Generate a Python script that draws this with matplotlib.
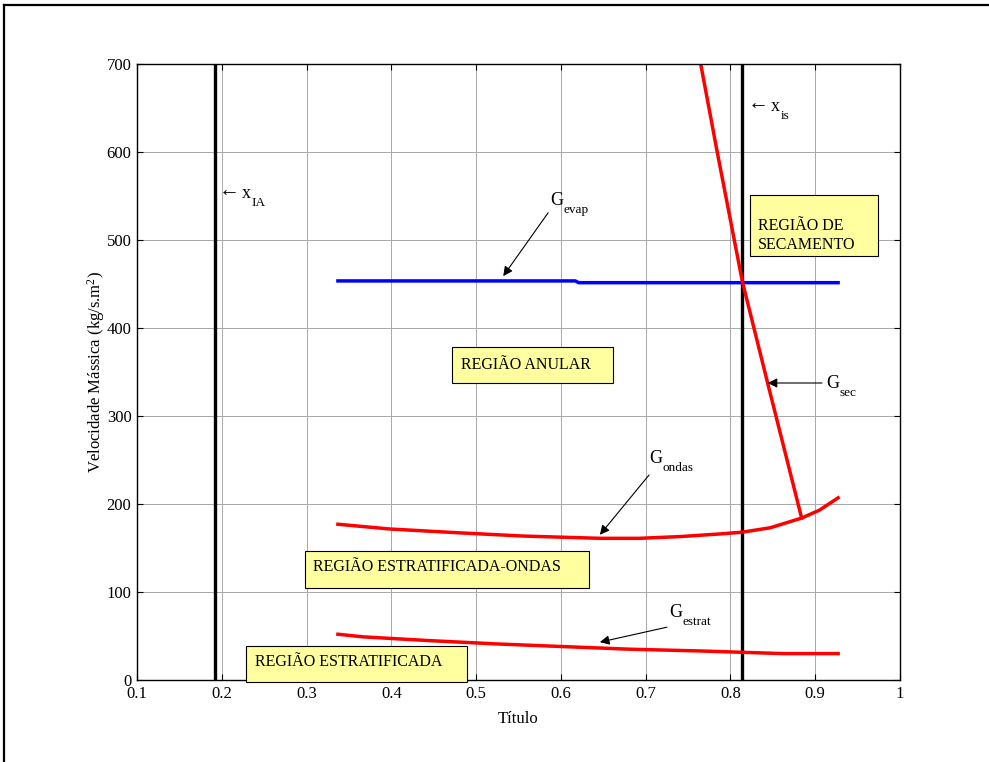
import matplotlib
matplotlib.use("Agg")
import matplotlib.pyplot as plt
from matplotlib.patches import Rectangle
from matplotlib.lines import Line2D

plt.rcParams["font.family"] = ["Liberation Serif", "DejaVu Serif"]
plt.rcParams["mathtext.fontset"] = "custom"
plt.rcParams["mathtext.rm"] = "Liberation Serif"
plt.rcParams["mathtext.it"] = "Liberation Serif:italic"

# Boundary curves of the flow-pattern map
x_evap = [0.337, 0.617, 0.621, 0.927]
g_evap = [453.5, 453.5, 451.5, 451.5]

x_sec = [0.762, 0.784, 0.814, 0.844, 0.884]
g_sec = [715, 602, 453, 337, 184]

x_ondas = [0.337, 0.398, 0.477, 0.555, 0.646, 0.693, 0.741, 0.788, 0.814,
           0.847, 0.884, 0.905, 0.927]
g_ondas = [177, 171.6, 167.4, 163.6, 161, 161, 163, 166, 168,
           173, 184, 193, 207]

x_estrat = [0.337, 0.367, 0.446, 0.524, 0.602, 0.681, 0.764, 0.862, 0.927]
g_estrat = [52, 49, 44.7, 41, 38, 35, 33, 30, 30]

# Transition qualities
x_IA = 0.192
x_is = 0.814

x_ticks = [0.1, 0.2, 0.3, 0.4, 0.5, 0.6, 0.7, 0.8, 0.9, 1.0]
x_ticklabels = ["0.1", "0.2", "0.3", "0.4", "0.5", "0.6", "0.7", "0.8", "0.9", "1"]
y_ticks = [0, 100, 200, 300, 400, 500, 600, 700]

fig = plt.figure(figsize=(9.89, 7.62), dpi=100)
ax = fig.add_axes([137 / 989, 1 - 680 / 762, 763 / 989, 616 / 762])

ax.set_xlim(0.1, 1.0)
ax.set_ylim(0, 700)
ax.set_xticks(x_ticks)
ax.set_xticklabels(x_ticklabels)
ax.set_yticks(y_ticks)
ax.grid(True, color="#a8a8a8", lw=0.7)
ax.set_axisbelow(True)
ax.tick_params(direction="in", length=4, width=0.8, top=True, right=True,
               labelsize=12, pad=4)
for s in ax.spines.values():
    s.set_linewidth(1.0)

ax.set_xlabel("Título", fontsize=12, labelpad=7)
ax.set_ylabel("Velocidade Mássica (kg/s.m$^2$)", fontsize=12, labelpad=0)

ax.axvline(x_IA, color="black", lw=2.4)
ax.axvline(x_is, color="black", lw=2.4)

ax.plot(x_evap, g_evap, color="#0000ff", lw=2.5)
ax.plot(x_sec, g_sec, color="#ff0000", lw=2.5)
ax.plot(x_ondas, g_ondas, color="#ff0000", lw=2.5)
ax.plot(x_estrat, g_estrat, color="#ff0000", lw=2.5)

# Region labels in yellow boxes (axes-fraction coordinates)
boxes = [
    ((0.8034, 0.688), 0.1676, 0.099, (0.814, 0.7216), "REGIÃO DE\nSECAMENTO"),
    ((0.4128, 0.4821), 0.2111, 0.0585, (0.4246, 0.5114), "REGIÃO ANULAR"),
    ((0.2202, 0.1494), 0.3722, 0.0600, (0.2307, 0.1834), "REGIÃO ESTRATIFICADA-ONDAS"),
    ((0.1425, -0.0032), 0.2900, 0.0584, (0.1547, 0.0292), "REGIÃO ESTRATIFICADA"),
]
for (bx, by), bw, bh, (tx, ty), label in boxes:
    ax.add_patch(Rectangle((bx, by), bw, bh, transform=ax.transAxes,
                           facecolor="#ffffa0", edgecolor="black", lw=0.8,
                           clip_on=False, zorder=5))
    ax.text(tx, ty, label, transform=ax.transAxes, fontsize=11.5,
            ha="left", va="center", linespacing=1.25, zorder=6)

arrow_kw = dict(arrowstyle="-|>", color="black", lw=0.8, mutation_scale=14,
                shrinkA=0, shrinkB=0)


def sub_label(x, y, base, sub, base_w, dx=0):
    """Main symbol plus a lowered, smaller subscript (offsets in points)."""
    ax.annotate(base, xy=(x, y), xytext=(dx, 0), textcoords="offset points",
                fontsize=13, ha="left", va="center")
    ax.annotate(sub, xy=(x, y), xytext=(dx + base_w, -7),
                textcoords="offset points", fontsize=9.5, ha="left", va="center")


def marker_label(x, y, sub):
    """Left-pointing arrow followed by x with a subscript."""
    ax.annotate("←", xy=(x, y), xytext=(0, 1), textcoords="offset points",
                fontsize=15, ha="left", va="center")
    sub_label(x, y, "x", sub, 6.8, dx=16.5)


# Curve labels with pointers
ax.annotate("", xy=(0.532, 459), xytext=(0.585, 531), arrowprops=arrow_kw)
sub_label(0.588, 545, "G", "evap", 9.4)

ax.annotate("", xy=(0.844, 337.5), xytext=(0.908, 337.5), arrowprops=arrow_kw)
sub_label(0.913, 337.5, "G", "sec", 9.4)

ax.annotate("", xy=(0.646, 165), xytext=(0.704, 233), arrowprops=arrow_kw)
sub_label(0.704, 252, "G", "ondas", 9.4)

ax.annotate("", xy=(0.646, 43), xytext=(0.725, 60), arrowprops=arrow_kw)
sub_label(0.728, 77, "G", "estrat", 9.4)

marker_label(x_IA + 0.005, 553, "IA")
marker_label(x_is + 0.007, 652, "is")

# Outer frame along the top and left edges
fig.add_artist(Line2D([4 / 989, 1.0], [1 - 5 / 762, 1 - 5 / 762],
                      transform=fig.transFigure, color="black", lw=1.6))
fig.add_artist(Line2D([4 / 989, 4 / 989], [0, 1 - 5 / 762],
                      transform=fig.transFigure, color="black", lw=1.6))

fig.savefig("out.png", dpi=100)
